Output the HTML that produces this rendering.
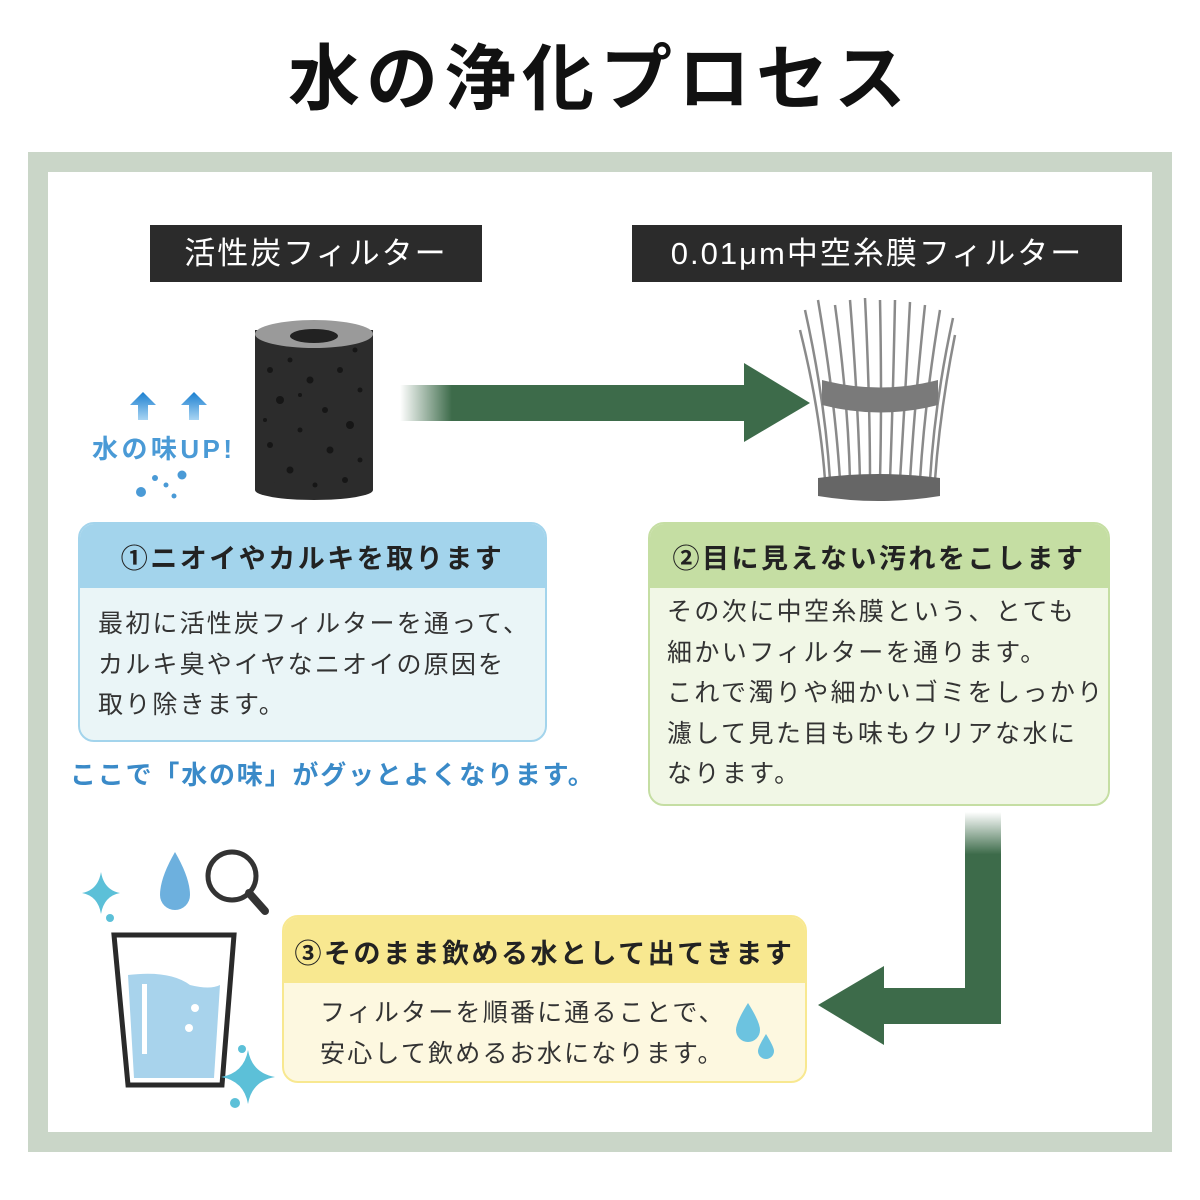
<!DOCTYPE html>
<html><head><meta charset="utf-8"><style>
body{margin:0;width:1200px;height:1200px;background:#fff;position:relative;overflow:hidden;font-family:"Liberation Sans","Noto Sans CJK JP",sans-serif;}
.a{position:absolute;}
.lbl{background:#2b2b2b;color:#fff;font-size:31px;text-align:center;line-height:57px;letter-spacing:2px;}
.box{border-radius:16px;overflow:hidden;box-sizing:border-box;}
.hd{font-weight:bold;font-size:27px;text-align:center;color:#222;letter-spacing:2.5px;}
.tx{font-size:25px;color:#333;line-height:40.5px;letter-spacing:2.2px;}
</style></head><body>
<div class="a" style="left:0;top:30px;width:1200px;text-align:center;font-size:72px;font-weight:bold;color:#111;letter-spacing:6px;line-height:100px;">水の浄化プロセス</div>
<div class="a" style="left:28px;top:152px;width:1104px;height:960px;border:20px solid #cad6c8;"></div>

<div class="a lbl" style="left:150px;top:225px;width:332px;">活性炭フィルター</div>
<div class="a lbl" style="left:632px;top:225px;width:490px;">0.01μm中空糸膜フィルター</div>

<svg class="a" style="left:0;top:0" width="1200" height="1200">
<defs>
<linearGradient id="g1" x1="0" x2="1"><stop offset="0" stop-color="#3d6b4a" stop-opacity="0"/><stop offset="0.15" stop-color="#3d6b4a"/></linearGradient>
<linearGradient id="g2" x1="0" y1="0" x2="0" y2="1"><stop offset="0" stop-color="#3d6b4a" stop-opacity="0"/><stop offset="0.2" stop-color="#3d6b4a"/></linearGradient>
<linearGradient id="gb" x1="0" y1="0" x2="0" y2="1"><stop offset="0" stop-color="#1a7fd0"/><stop offset="1" stop-color="#a9d5f3"/></linearGradient>
</defs>
<rect x="400" y="385" width="346" height="36" fill="url(#g1)"/>
<polygon points="744,363 810,403 744,442" fill="#3d6b4a"/>
<rect x="965" y="812" width="36" height="212" fill="url(#g2)"/>
<rect x="880" y="988" width="121" height="36" fill="#3d6b4a"/>
<polygon points="884,966 818,1005 884,1045" fill="#3d6b4a"/>
<rect x="255" y="330" width="118" height="160" fill="#2c2c2c"/>
<ellipse cx="314" cy="490" rx="59" ry="10" fill="#2c2c2c"/>
<ellipse cx="314" cy="334" rx="59" ry="14" fill="#9a9a9a"/>
<ellipse cx="314" cy="336" rx="24" ry="7" fill="#222"/>
<g fill="#161616">
<circle cx="270" cy="370" r="3"/><circle cx="290" cy="360" r="2.5"/><circle cx="310" cy="380" r="3.5"/><circle cx="340" cy="370" r="3"/><circle cx="360" cy="390" r="2.5"/><circle cx="280" cy="400" r="4"/><circle cx="325" cy="410" r="3"/><circle cx="350" cy="425" r="4"/><circle cx="300" cy="430" r="2.5"/><circle cx="270" cy="445" r="3"/><circle cx="330" cy="450" r="3.5"/><circle cx="360" cy="460" r="2.5"/><circle cx="290" cy="470" r="3.5"/><circle cx="315" cy="485" r="2.5"/><circle cx="345" cy="480" r="3"/><circle cx="300" cy="395" r="2"/><circle cx="265" cy="420" r="2"/><circle cx="355" cy="350" r="2.5"/>
</g>
<polygon points="143,392 130,405 138,405 138,420 148,420 148,405 156,405" fill="url(#gb)"/>
<polygon points="194,392 181,405 189,405 189,420 199,420 199,405 207,405" fill="url(#gb)"/>
<text x="92" y="458" font-size="26" font-weight="bold" fill="#4a9ad6" font-family="Liberation Sans,Noto Sans CJK JP,sans-serif" textLength="140">水の味UP!</text>
<g fill="#4a9ad6"><circle cx="141" cy="492" r="5"/><circle cx="155" cy="478" r="3"/><circle cx="166" cy="485" r="2.5"/><circle cx="182" cy="475" r="4.5"/><circle cx="174" cy="496" r="2.5"/></g>
<g stroke="#8a8a8a" stroke-width="2.5" fill="none">
<path d="M830 480 Q825 400 805 310"/><path d="M840 480 Q835 400 818 300"/><path d="M850 480 Q848 400 835 305"/><path d="M860 480 Q858 400 850 300"/><path d="M870 480 Q870 400 865 298"/><path d="M880 480 Q882 400 880 300"/><path d="M890 480 Q893 400 895 300"/><path d="M900 480 Q905 400 910 302"/><path d="M910 480 Q915 400 925 305"/><path d="M920 480 Q925 400 940 310"/><path d="M930 480 Q935 400 953 318"/><path d="M825 480 Q820 410 800 330"/><path d="M935 480 Q940 410 955 335"/>
</g>
<path d="M822 380 Q880 395 938 380 L938 405 Q880 420 822 405Z" fill="#7a7a7a"/>
<path d="M818 478 Q878 470 940 478 L940 496 Q878 506 818 496Z" fill="#666"/>
<path d="M114 935 L234 935 L222 1085 L128 1085Z" fill="none" stroke="#2a2a2a" stroke-width="5"/>
<path d="M128 975 Q170 970 190 985 Q210 990 220 985 L214 1078 L134 1078Z" fill="#a8d3ec"/>
<rect x="142" y="984" width="5" height="70" fill="#fff"/>
<circle cx="195" cy="1008" r="4" fill="#fff"/><circle cx="189" cy="1028" r="4" fill="#fff"/>
<path d="M175 852 Q160 878 160 895 A15 15 0 0 0 190 895 Q190 878 175 852Z" fill="#6db0de"/>
<circle cx="232" cy="876" r="24" fill="none" stroke="#333" stroke-width="5"/>
<line x1="249" y1="893" x2="265" y2="911" stroke="#333" stroke-width="8" stroke-linecap="round"/>
<path d="M101 872 Q104 890 120 893 Q104 896 101 914 Q98 896 82 893 Q98 890 101 872Z" fill="#5cc0d8"/>
<path d="M248 1050 Q252 1073 275 1077 Q252 1081 248 1104 Q244 1081 221 1077 Q244 1073 248 1050Z" fill="#5cc0d8"/>
<circle cx="242" cy="1049" r="4" fill="#5cc0d8"/><circle cx="235" cy="1103" r="5" fill="#5cc0d8"/><circle cx="110" cy="918" r="4" fill="#5cc0d8"/>
</svg>

<div class="a box" style="left:78px;top:522px;width:469px;height:220px;background:#eaf5f7;border:2px solid #a3d4ec;">
<div class="hd" style="background:#a3d4ec;height:64px;line-height:70px;">①ニオイやカルキを取ります</div>
<div class="tx" style="padding:16px 0 0 18px;">最初に活性炭フィルターを通って、<br>カルキ臭やイヤなニオイの原因を<br>取り除きます。</div>
</div>
<div class="a" style="left:70px;top:755px;font-size:26px;font-weight:bold;color:#3a8ac8;white-space:nowrap;letter-spacing:1.8px;">ここで「水の味」がグッとよくなります。</div>

<div class="a box" style="left:648px;top:522px;width:462px;height:284px;background:#f1f7e6;border:2px solid #c5dea3;">
<div class="hd" style="background:#c5dea3;height:64px;line-height:70px;">②目に見えない汚れをこします</div>
<div class="tx" style="padding:4px 0 0 17px;letter-spacing:2.4px;">その次に中空糸膜という、とても<br>細かいフィルターを通ります。<br>これで濁りや細かいゴミをしっかり<br>濾して見た目も味もクリアな水に<br>なります。</div>
</div>

<div class="a box" style="left:282px;top:915px;width:525px;height:168px;background:#fdf8e0;border:2px solid #f8e890;">
<div class="hd" style="background:#f8e890;height:66px;line-height:74px;">③そのまま飲める水として出てきます</div>
<div class="tx" style="padding:10px 0 0 36px;">フィルターを順番に通ることで、<br>安心して飲めるお水になります。</div>
</div>
<svg class="a" style="left:730px;top:995px" width="60" height="70">
<path d="M18 8 Q6 27 6 35 A12 12 0 0 0 30 35 Q30 27 18 8Z" fill="#6cc3e0"/>
<path d="M36 39 Q28 52 28 56 A8 8 0 0 0 44 56 Q44 52 36 39Z" fill="#6cc3e0"/>
</svg>
</body></html>
